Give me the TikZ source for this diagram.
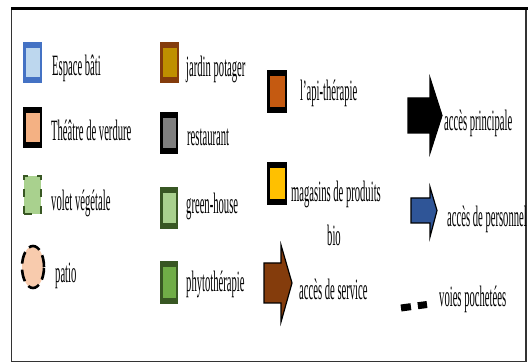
\documentclass[tikz,border=0pt]{standalone}
\usepackage{fontspec}
\newfontfamily\lab{Liberation Serif}[FakeStretch=0.36]
\usetikzlibrary{calc,shapes.geometric}
\definecolor{bluebd}{HTML}{4472C4}
\definecolor{bluefl}{HTML}{BDD7EE}
\definecolor{peach}{HTML}{F4B183}
\definecolor{brownbd}{HTML}{843C0C}
\definecolor{gold}{HTML}{BF9000}
\definecolor{greybox}{HTML}{7F7F7F}
\definecolor{dkgreen}{HTML}{385723}
\definecolor{ltgreen}{HTML}{A9D18E}
\definecolor{midgreen}{HTML}{70AD47}
\definecolor{apiorange}{HTML}{C55A11}
\definecolor{yellowbio}{HTML}{FFC000}
\definecolor{patiofill}{HTML}{F8CBAD}
\definecolor{persblue}{HTML}{2F5597}
\definecolor{framegrey}{HTML}{333333}
\begin{document}
\begin{tikzpicture}[x=1pt,y=-1pt,
  lbl/.style={anchor=base west, inner sep=0pt, font=\lab\fontsize{29.5}{31}\selectfont},
  legbox/.style 2 args={fill=#1, inner sep=0pt, minimum width=19pt, minimum height=41pt,
    path picture={\fill[#2] ($(path picture bounding box.south west)+(2.5pt,6pt)$) rectangle ($(path picture bounding box.north east)+(-2.5pt,-6pt)$);}},
  arrowsym/.style={draw=black, line width=1.2pt, line join=miter}
]
\useasboundingbox (0,0) rectangle (528,363);
% frame
\draw[framegrey, line width=1.2pt] (11.5,9) -- (11.5,361.5) -- (526,361.5) -- (526,9);
\draw[black, line width=3pt] (11,8.5) -- (528,8.5);

% column 1
\node[legbox={bluebd}{bluefl}] (espace) at (32.5,62.5) {};
\node[lbl] (tespace) at (52,76) {Espace bâti};
\node[legbox={black}{peach}] (theatre) at (32.5,127.5) {};
\node[lbl] (ttheatre) at (51,141) {Théâtre de verdure};
\node[fill=ltgreen, draw=dkgreen, line width=2.5pt, dash pattern=on 8pt off 9pt, inner sep=0pt,
      minimum width=17pt, minimum height=38pt] (volet) at (32.5,195) {};
\node[lbl] (tvolet) at (51,211) {volet végétale};
\node[ellipse, fill=patiofill, draw=black, line width=2.6pt, dash pattern=on 12pt off 6pt,
      inner sep=0pt, minimum width=22pt, minimum height=42pt] (patio) at (33,267) {};
\node[lbl] (tpatio) at (55,283) {patio};

% column 2
\node[legbox={brownbd}{gold}] (jardin) at (169.5,62.5) {};
\node[lbl] (tjardin) at (186,77) {jardin potager};
\node[legbox={black}{greybox}, minimum width=18pt, minimum height=42pt] (resto) at (169,133) {};
\node[lbl] (tresto) at (187,146) {restaurant};
\node[legbox={dkgreen}{ltgreen}, minimum width=18pt, minimum height=42pt] (green) at (169,208) {};
\node[lbl] (tgreen) at (186,214) {green-house};
\node[legbox={dkgreen}{midgreen}, minimum width=18pt, minimum height=43pt] (phyto) at (169,282.5) {};
\node[lbl] (tphyto) at (186,292) {phytothérapie};

% column 3
\node[legbox={black}{apiorange}, minimum width=20pt, minimum height=43pt] (api) at (277,91.5) {};
\node[lbl] (tapi) at (300,101) {l’api-thérapie};
\node[legbox={black}{yellowbio}, minimum width=20pt, minimum height=43pt] (bio) at (277,183.5) {};
\node[lbl, anchor=base] (tbio1) at (336,202) {magasins de produits};
\node[lbl, anchor=base] (tbio2) at (334,246) {bio};
\filldraw[arrowsym, fill=brownbd] (264,263) -- (281,263) -- (281,245) -- (292,283) -- (281,322) -- (281,303) -- (264,303) -- cycle;
\node[lbl] (tservice) at (299,300) {accès de service};

% column 4
\filldraw[arrowsym, fill=black] (408,98) -- (430,98) -- (430,78) -- (442,115.5) -- (430,153) -- (430,133) -- (408,133) -- cycle;
\node[lbl] (tprinc) at (444,131) {accès principale};
\filldraw[arrowsym, fill=persblue] (411,198) -- (430,198) -- (430,187) -- (437,210.5) -- (430,237) -- (430,223) -- (411,223) -- cycle;
\node[lbl] (tpers) at (447,227) {accès de personnel};
\coordinate (v1) at (401,308);
\coordinate (v2) at (427,304.5);
\draw[black, line width=7pt, dash pattern=on 10pt off 7pt] (v1) -- (v2);
\node[lbl] (tvoies) at (439,307) {voies pochetées};
\end{tikzpicture}
\end{document}
